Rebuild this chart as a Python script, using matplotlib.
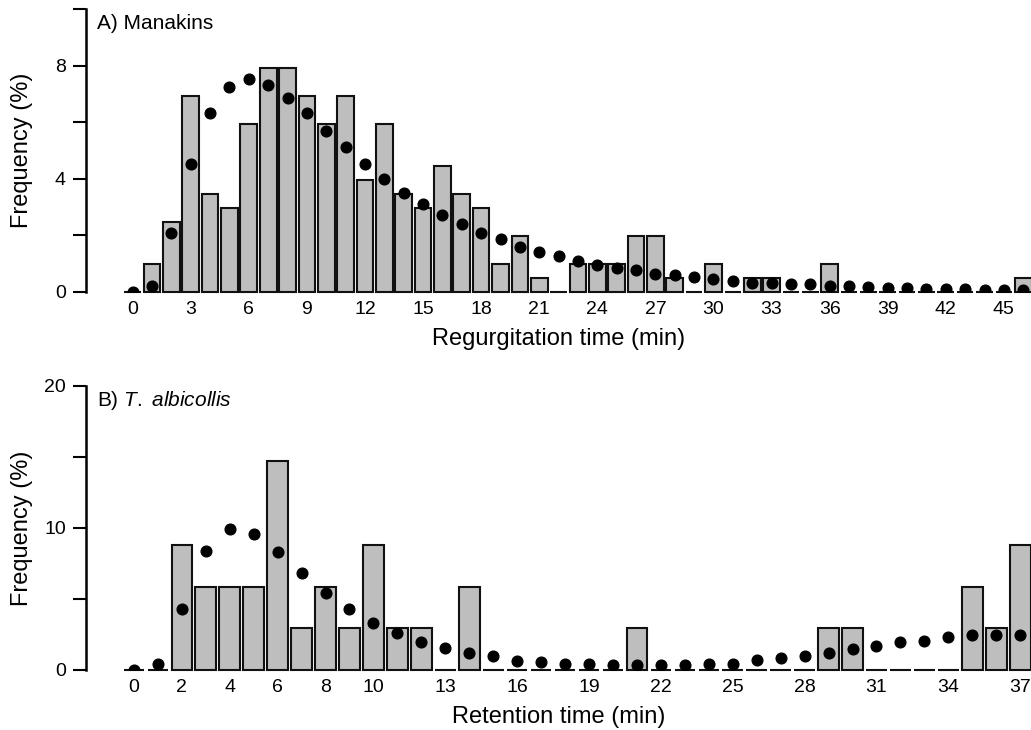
import matplotlib
matplotlib.use("Agg")
import matplotlib.pyplot as plt
import numpy as np

plt.rcParams['font.family'] = ['Liberation Sans', 'DejaVu Sans']
plt.rcParams['mathtext.fontset'] = 'custom'
plt.rcParams['mathtext.rm'] = 'Liberation Sans'
plt.rcParams['mathtext.it'] = 'Liberation Sans:italic'

# A) Manakins - regurgitation time, minutes 0..46
manakin_min = list(range(47))
manakin_obs = [0, 0.99, 2.48, 6.93, 3.47, 2.97, 5.94, 7.92, 7.92, 6.93,
               5.94, 6.93, 3.96, 5.94, 3.47, 2.97, 4.46, 3.47, 2.97, 0.99,
               1.98, 0.5, 0, 0.99, 0.99, 0.99, 1.98, 1.98, 0.5, 0,
               0.99, 0, 0.5, 0.5, 0, 0, 0.99, 0, 0, 0,
               0, 0, 0, 0, 0, 0, 0.5]
manakin_fit = [0.0, 0.22, 2.08, 4.53, 6.31, 7.25, 7.51, 7.31, 6.87, 6.31,
               5.69, 5.14, 4.53, 4.01, 3.51, 3.10, 2.71, 2.39, 2.08, 1.86,
               1.58, 1.40, 1.27, 1.09, 0.95, 0.85, 0.77, 0.64, 0.59, 0.53,
               0.47, 0.39, 0.33, 0.31, 0.28, 0.27, 0.21, 0.20, 0.17, 0.15,
               0.14, 0.11, 0.10, 0.09, 0.08, 0.07, 0.06]
manakin_xticks = list(range(0, 46, 3))

# B) T. albicollis - retention time, minutes 0..37
toucan_min = list(range(38))
toucan_obs = [0, 0, 8.82, 5.88, 5.88, 5.88, 14.71, 2.94, 5.88, 2.94,
              8.82, 2.94, 2.94, 0, 5.88, 0, 0, 0, 0, 0,
              0, 2.94, 0, 0, 0, 0, 0, 0, 0, 2.94,
              2.94, 0, 0, 0, 0, 5.88, 2.94, 8.82]
toucan_fit = [0.0, 0.42, 4.32, 8.40, 9.90, 9.55, 8.28, 6.80, 5.40, 4.32,
              3.31, 2.58, 1.95, 1.57, 1.17, 0.99, 0.66, 0.54, 0.45, 0.42,
              0.35, 0.33, 0.35, 0.35, 0.45, 0.45, 0.70, 0.82, 0.99, 1.17,
              1.46, 1.71, 1.95, 2.04, 2.30, 2.44, 2.44, 2.44]
toucan_xticks = [0, 2, 4, 6, 8, 10, 13, 16, 19, 22, 25, 28, 31, 34, 37]

W, H = 1031, 730
fig = plt.figure(figsize=(W / 100, H / 100), dpi=100)

def panel(rect, x, obs, fit, xlim, ylim, ymajor, yminor, xticks, xlabel, tag):
    ax = fig.add_axes(rect)
    ax.bar(x, obs, width=0.86, color='#bebebe', edgecolor='#111111',
           linewidth=1.5, clip_on=False, zorder=2)
    ax.plot(x, fit, 'o', color='black', markersize=7.7, zorder=3)
    ax.set_xlim(*xlim)
    ax.set_ylim(*ylim)
    for s in ['top', 'right', 'bottom']:
        ax.spines[s].set_visible(False)
    ax.spines['left'].set_linewidth(1.8)
    ax.set_xticks(xticks)
    ax.tick_params(axis='x', length=0, pad=6.5, labelsize=14)
    ax.set_yticks(ymajor)
    ax.set_yticks(yminor, minor=True)
    ax.tick_params(axis='y', which='both', length=9.5, width=1.5,
                   pad=5, labelsize=14)
    ax.set_xlabel(xlabel, fontsize=17, labelpad=7)
    ax.set_ylabel('Frequency (%)', fontsize=17)
    ax.yaxis.set_label_coords(-0.056, 0.5)
    ax.text(0.0113, 0.95, tag, transform=ax.transAxes, fontsize=15,
            ha='left', va='center')
    return ax

panel([86 / W, 1 - 292 / H, 945 / W, 283 / H], manakin_min, manakin_obs,
      manakin_fit, (-2.41, 46.40), (0, 10), [0, 4, 8], [2, 6, 10],
      manakin_xticks, 'Regurgitation time (min)', 'A) Manakins')

panel([86 / W, 1 - 670 / H, 945 / W, 284 / H], toucan_min, toucan_obs,
      toucan_fit, (-2.0, 37.45), (0, 20), [0, 10, 20], [5, 15],
      toucan_xticks, 'Retention time (min)', r'B) $\it{T.\ albicollis}$')

fig.savefig('out.png', dpi=100)
